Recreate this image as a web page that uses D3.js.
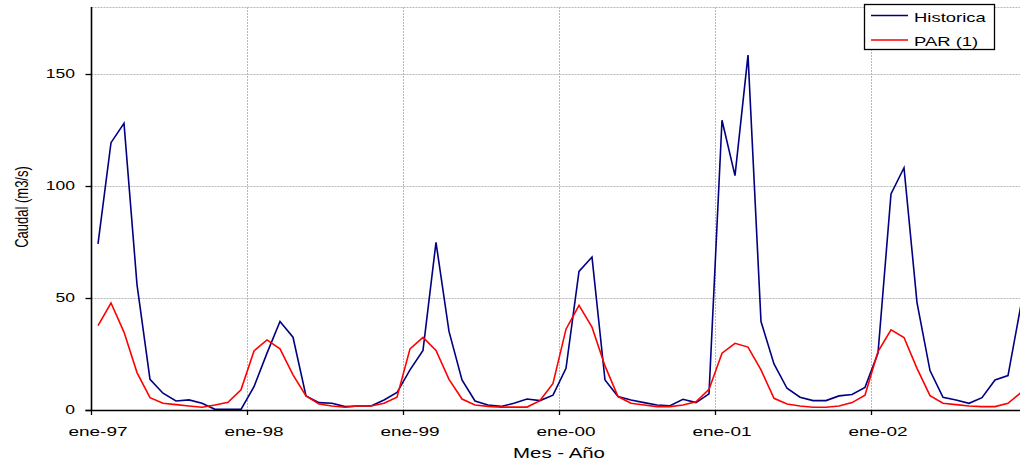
<!DOCTYPE html>
<html>
<head>
<meta charset="utf-8">
<script src="https://cdn.jsdelivr.net/npm/d3@7"></script>
<style>
  body { margin: 0; background: #fff; }
  text { font-family: "Liberation Sans", Arial, sans-serif; fill: #000; }
</style>
</head>
<body>
<div class="graph"></div>
<script>
// data, monthly ene-97 .. dic-02
var monthNames = ["ene","feb","mar","abr","may","jun","jul","ago","sep","oct","nov","dic"];
var years = ["97","98","99","00","01","02"];

var historica = [
  74.2, 119.4, 128.0, 56.0, 13.7, 7.5, 4.0, 4.5, 3.0, 0.3, 0.3, 0.3,
  10.4, 25.4, 39.5, 32.5, 6.3, 3.3, 3.0, 1.5, 1.8, 1.8, 4.5, 7.8,
  17.9, 26.6, 74.9, 35.1, 13.4, 4.0, 2.2, 1.6, 3.0, 4.9, 4.2, 6.6,
  18.6, 61.9, 68.3, 13.4, 6.0, 4.5, 3.3, 2.2, 1.9, 4.8, 3.3, 7.2,
  129.4, 104.7, 158.5, 39.5, 20.6, 9.7, 5.7, 4.2, 4.2, 6.3, 6.9, 10.1,
  25.4, 96.5, 108.2, 48.0, 17.6, 5.7, 4.5, 3.0, 5.5, 13.4, 15.4, 47.0
];

var par1 = [
  37.7, 47.8, 34.8, 16.7, 5.5, 3.0, 2.4, 1.8, 1.2, 2.2, 3.4, 9.0,
  26.4, 31.3, 27.3, 15.7, 6.3, 2.7, 1.8, 1.2, 1.8, 1.8, 3.0, 5.7,
  27.3, 32.4, 26.6, 13.7, 4.9, 2.2, 1.6, 1.3, 1.3, 1.3, 4.2, 11.9,
  36.1, 46.7, 37.0, 19.7, 6.0, 3.0, 2.2, 1.5, 1.5, 2.2, 3.7, 9.2,
  25.4, 29.8, 28.1, 17.9, 5.2, 2.7, 1.8, 1.2, 1.2, 1.8, 3.3, 6.6,
  26.1, 35.8, 32.4, 18.6, 6.4, 3.0, 2.4, 1.8, 1.5, 1.5, 3.0, 7.8
];

var yTicks = [0, 50, 100, 150];
var yMax = 180;

(function() {
  var months = [];
  years.forEach(function(yy) {
    monthNames.forEach(function(m) { months.push(m + "-" + yy); });
  });
  var janLabels = months.filter(function(d) { return d.indexOf("ene") === 0; });

  var W = 1020, H = 465;
  var plotLeft = 91.5, plotTop = 7, plotBottom = 410;
  var bandW = 13;

  // text in the original is stretched sideways
  var sx = 1.46;

  var x = d3.scaleBand()
      .domain(months)
      .range([plotLeft, plotLeft + bandW * months.length]);

  var y = d3.scaleLinear()
      .domain([0, yMax])
      .range([plotBottom, plotTop]);

  var svg = d3.select(".graph").append("svg")
      .attr("width", W)
      .attr("height", H);

  // grid
  svg.append("g").selectAll("line")
      .data(yTicks.filter(function(d) { return d > 0; }).concat([yMax]))
    .enter().append("line")
      .attr("x1", plotLeft).attr("x2", x.range()[1])
      .attr("y1", function(d) { return Math.round(y(d)) + 0.5; })
      .attr("y2", function(d) { return Math.round(y(d)) + 0.5; })
      .style("stroke", "#b8b8b8")
      .style("stroke-dasharray", "2,1");

  svg.append("g").selectAll("line")
      .data(janLabels.slice(1))
    .enter().append("line")
      .attr("x1", function(d) { return x(d); })
      .attr("x2", function(d) { return x(d); })
      .attr("y1", plotTop).attr("y2", plotBottom)
      .style("stroke", "#b8b8b8")
      .style("stroke-dasharray", "2,1");

  var line = d3.line()
      .x(function(d, i) { return x(months[i]) + bandW / 2; })
      .y(function(d) { return y(d); });

  svg.append("path")
      .datum(historica)
      .attr("d", line)
      .style("fill", "none")
      .style("stroke", "#000080")
      .style("stroke-width", 1.6);

  svg.append("path")
      .datum(par1)
      .attr("d", line)
      .style("fill", "none")
      .style("stroke", "#ff0000")
      .style("stroke-width", 1.6);

  // axes
  svg.append("line")
      .attr("x1", plotLeft).attr("x2", plotLeft)
      .attr("y1", plotTop).attr("y2", plotBottom + 1)
      .style("stroke", "#000").style("stroke-width", 1.6);

  svg.append("line")
      .attr("x1", plotLeft - 6).attr("x2", W)
      .attr("y1", plotBottom + 0.5).attr("y2", plotBottom + 0.5)
      .style("stroke", "#000").style("stroke-width", 1.6);

  svg.append("g").selectAll("line")
      .data(yTicks)
    .enter().append("line")
      .attr("x1", plotLeft - 6).attr("x2", plotLeft)
      .attr("y1", function(d) { return Math.round(y(d)) + 0.5; })
      .attr("y2", function(d) { return Math.round(y(d)) + 0.5; })
      .style("stroke", "#000").style("stroke-width", 1.3);

  svg.append("g").selectAll("line")
      .data(janLabels)
    .enter().append("line")
      .attr("x1", function(d) { return x(d); })
      .attr("x2", function(d) { return x(d); })
      .attr("y1", plotBottom).attr("y2", plotBottom + 5)
      .style("stroke", "#000").style("stroke-width", 1.3);

  svg.append("g").selectAll("text")
      .data(yTicks)
    .enter().append("text")
      .attr("transform", function(d) { return "translate(75," + y(d) + ") scale(" + sx + ",1)"; })
      .attr("text-anchor", "end")
      .attr("dy", "0.36em")
      .style("font-size", "12px")
      .text(function(d) { return d; });

  svg.append("g").selectAll("text")
      .data(janLabels)
    .enter().append("text")
      .attr("transform", function(d) { return "translate(" + (x(d) + bandW / 2) + ",436) scale(" + sx + ",1)"; })
      .attr("text-anchor", "middle")
      .style("font-size", "13px")
      .text(function(d) { return d; });

  svg.append("text")
      .attr("transform", "translate(559,457.5) scale(" + sx + ",1)")
      .attr("text-anchor", "middle")
      .style("font-size", "14px")
      .text("Mes - Año");

  svg.append("text")
      .attr("transform", "translate(21.5,207) rotate(-90) scale(1," + sx + ")")
      .attr("text-anchor", "middle")
      .attr("dy", "0.35em")
      .style("font-size", "13px")
      .text("Caudal (m3/s)");

  // legend
  var legend = svg.append("g");
  legend.append("rect")
      .attr("x", 864.5).attr("y", 4.5)
      .attr("width", 130).attr("height", 45)
      .style("fill", "#fff")
      .style("stroke", "#000")
      .style("stroke-width", 1.3);

  var legendItems = [
    {name: "Historica", color: "#000080", ly: 15.5, ty: 21.5},
    {name: "PAR (1)", color: "#ff0000", ly: 40, ty: 46}
  ];

  legendItems.forEach(function(it) {
    legend.append("line")
        .attr("x1", 871).attr("x2", 908)
        .attr("y1", it.ly).attr("y2", it.ly)
        .style("stroke", it.color)
        .style("stroke-width", 1.3);
    legend.append("text")
        .attr("transform", "translate(914," + it.ty + ") scale(1.42,1)")
        .style("font-size", "13px")
        .text(it.name);
  });
})();
</script>
</body>
</html>
